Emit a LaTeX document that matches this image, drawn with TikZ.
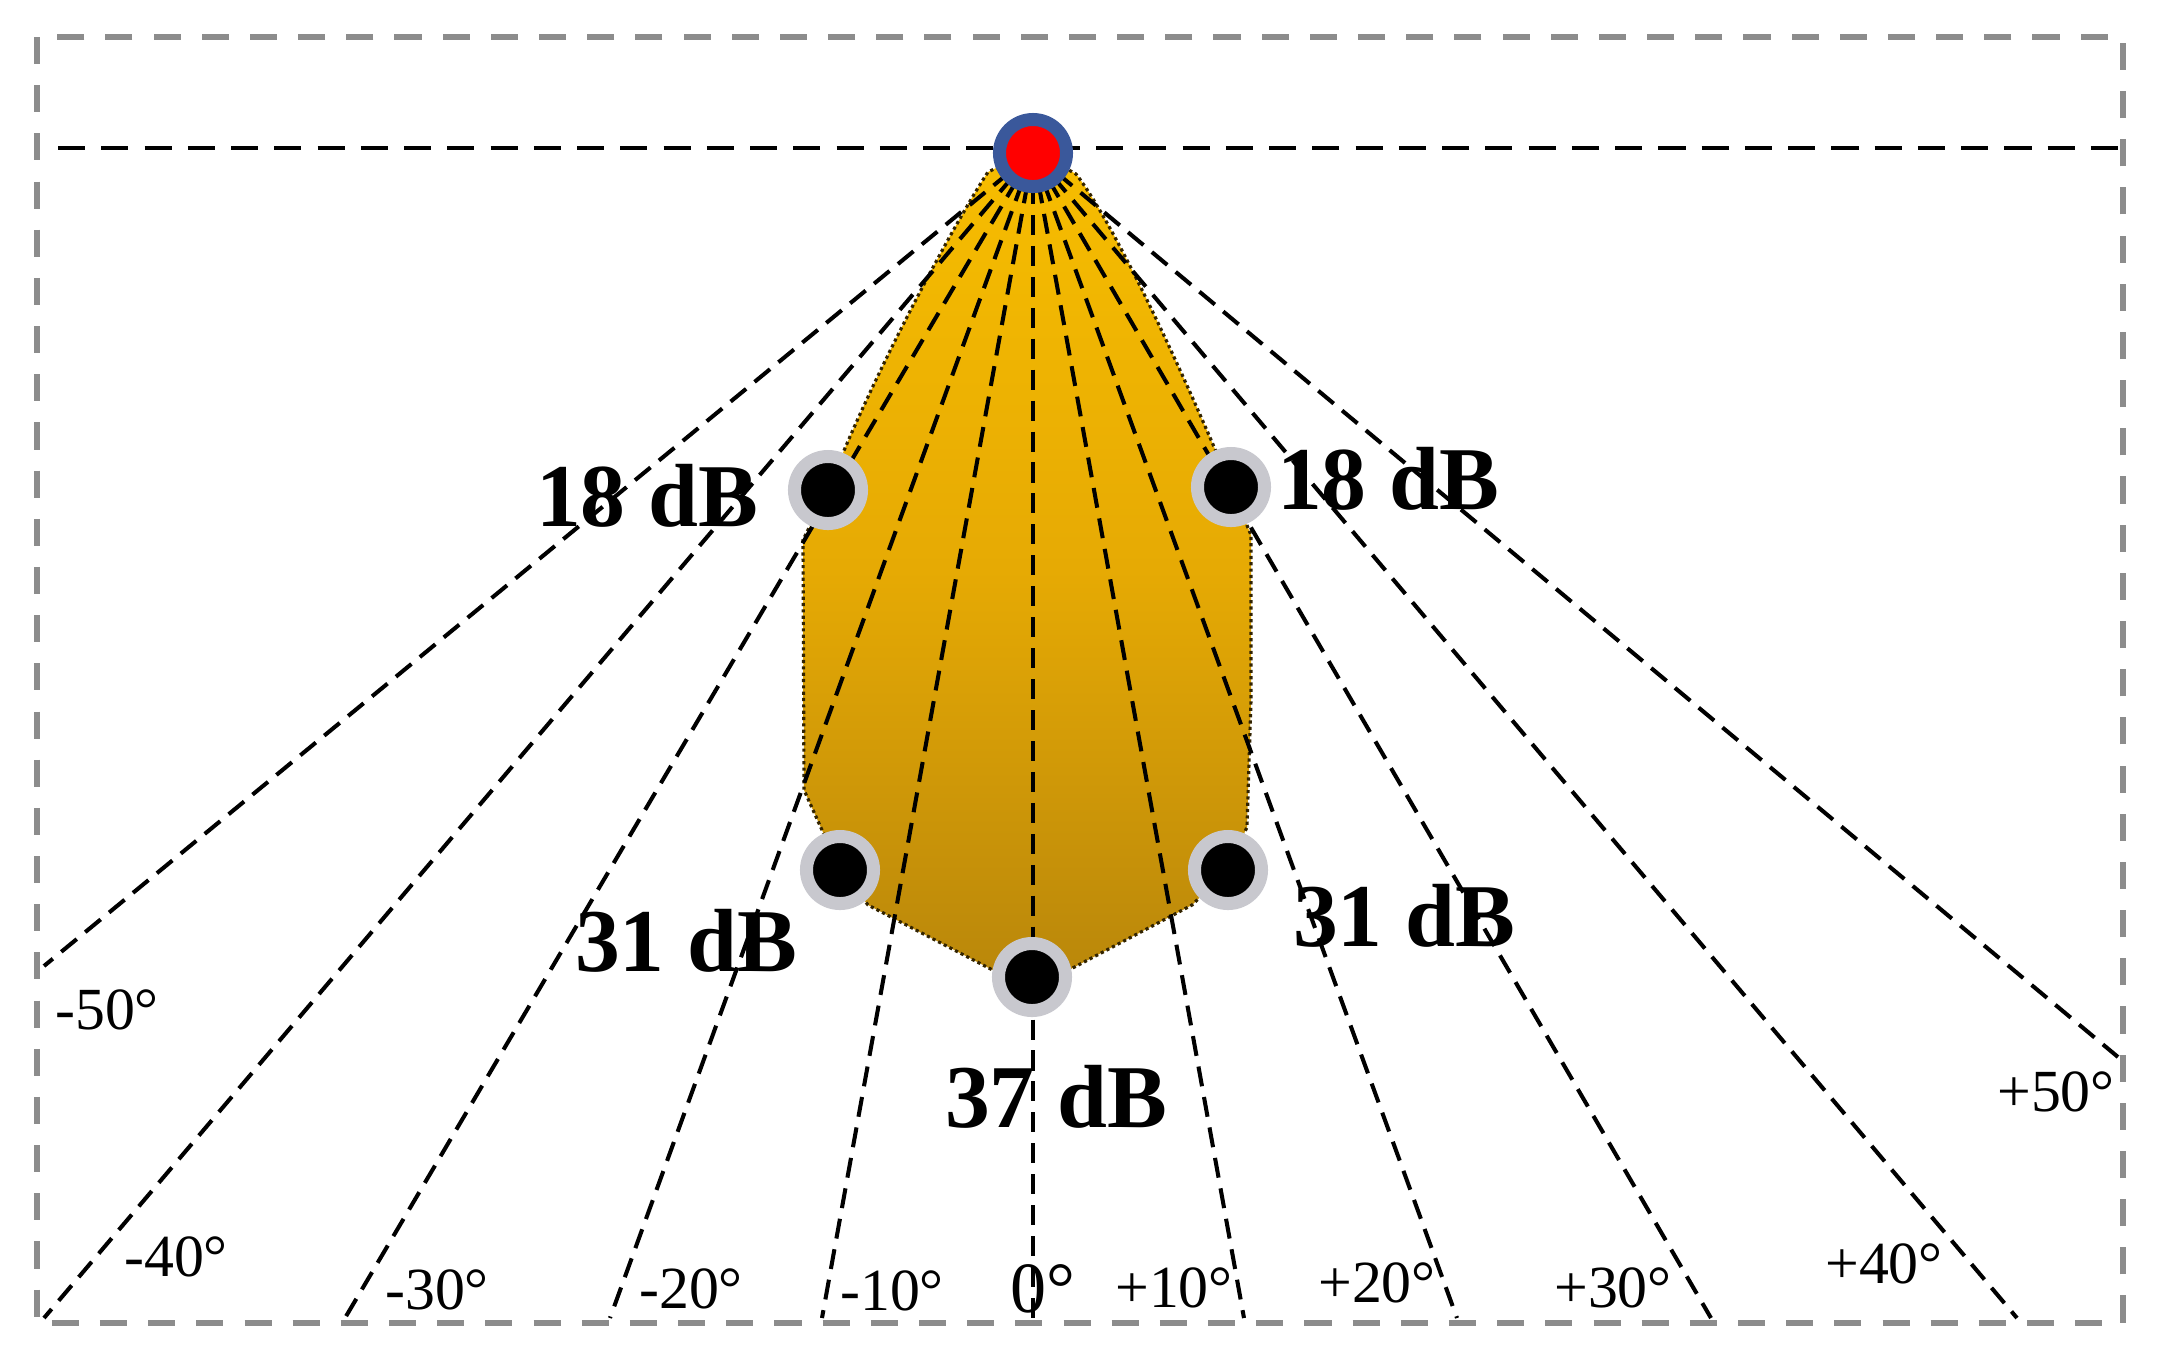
\documentclass[tikz,border=0pt]{standalone}
\usepackage{fontspec}
\setmainfont{Liberation Serif}
\definecolor{beamtop}{RGB}{247,189,0}
\definecolor{beammid}{RGB}{230,170,4}
\definecolor{beambot}{RGB}{184,134,11}
\definecolor{framegray}{RGB}{140,140,140}
\definecolor{ringgray}{RGB}{200,200,206}
\definecolor{ringblue}{RGB}{58,88,155}
\definecolor{beamedge}{RGB}{50,35,0}
\begin{document}
\begin{tikzpicture}[x=0.01cm,y=-0.01cm,
  frame/.style={draw=framegray, line width=1.5pt, dash pattern=on 7.7pt off 6pt},
  hline/.style={draw=black, line width=1.4pt, dash pattern=on 7.7pt off 4.6pt},
  ray/.style={draw=black, line width=1.15pt, dash pattern=on 5.7pt off 3.1pt},
  beam/.style={top color=beamtop, bottom color=beambot, middle color=beammid, draw=beamedge, line width=0.9pt, dash pattern=on 0.9pt off 0.9pt},
  bdot/.style={circle, fill=black, draw=ringgray, line width=0.13cm, minimum size=0.67cm, inner sep=0pt},
  src/.style={circle, fill=red, draw=ringblue, line width=0.13cm, minimum size=0.67cm, inner sep=0pt},
  dblab/.style={font=\bfseries\fontsize{25.5}{30}\selectfont, inner sep=0pt},
  anglab/.style={font=\fontsize{17}{20}\selectfont, inner sep=0pt}]
\useasboundingbox (0,0) rectangle (2177,1365);
% frame
\draw[frame] (37,37) rectangle (2123,1323);
\coordinate (hl) at (58,148);
\coordinate (hr) at (2123,148);
\draw[hline] (hl) -- (hr);
\coordinate (apex) at (1033,153);
% beam region
\path[beam] (1033,150) -- (988,172)
  .. controls (955,222) and (870,380) .. (828,490)
  -- (803,540) -- (804,790) -- (840,870) -- (868,905) -- (1031,990)
  -- (1192,905) -- (1228,870) -- (1247,827) -- (1251,700) -- (1251,535) -- (1231,487)
  .. controls (1195,400) and (1118,228) .. (1076,174) -- cycle;
% rays
\foreach \n/\x/\y in {m50/44/966, m40/44/1318, m30/345/1318, m20/610/1318, m10/822/1318,
  z/1033/1318, p10/1244/1318, p20/1457/1318, p30/1711/1318, p40/2017/1318, p50/2118/1057}{
  \coordinate (e\n) at (\x,\y);
  \draw[ray] (apex) -- (e\n);
}
% angle labels
\foreach \n/\x/\y/\t in {m50/107/1010/-50°, m40/176/1257/-40°, m30/437/1290/-30°, m20/691/1289/-20°,
  m10/892/1291/-10°, p10/1174/1288/+10°, p20/1377/1283/+20°, p30/1613/1288/+30°,
  p40/1884/1264/+40°, p50/2056/1092/+50°}{
  \node[anglab] (l\n) at (\x,\y) {\t};
}
\node[anglab, font=\fontsize{20.5}{24}\selectfont] (lz) at (1043,1289) {0°};
% dB labels
\node[dblab] (t18l) at (647,496) {18 dB};
\node[dblab] (t18r) at (1388,479) {18 dB};
\node[dblab] (t31l) at (686,941) {31 dB};
\node[dblab] (t31r) at (1404,916) {31 dB};
\node[dblab] (t37) at (1056,1097) {37 dB};
% dots
\node[bdot] (d18l) at (828,490) {};
\node[bdot] (d18r) at (1231,487) {};
\node[bdot] (d31l) at (840,870) {};
\node[bdot] (d31r) at (1228,870) {};
\node[bdot] (d37) at (1032,977) {};
\node[src] (s) at (apex) {};
\end{tikzpicture}
\end{document}
